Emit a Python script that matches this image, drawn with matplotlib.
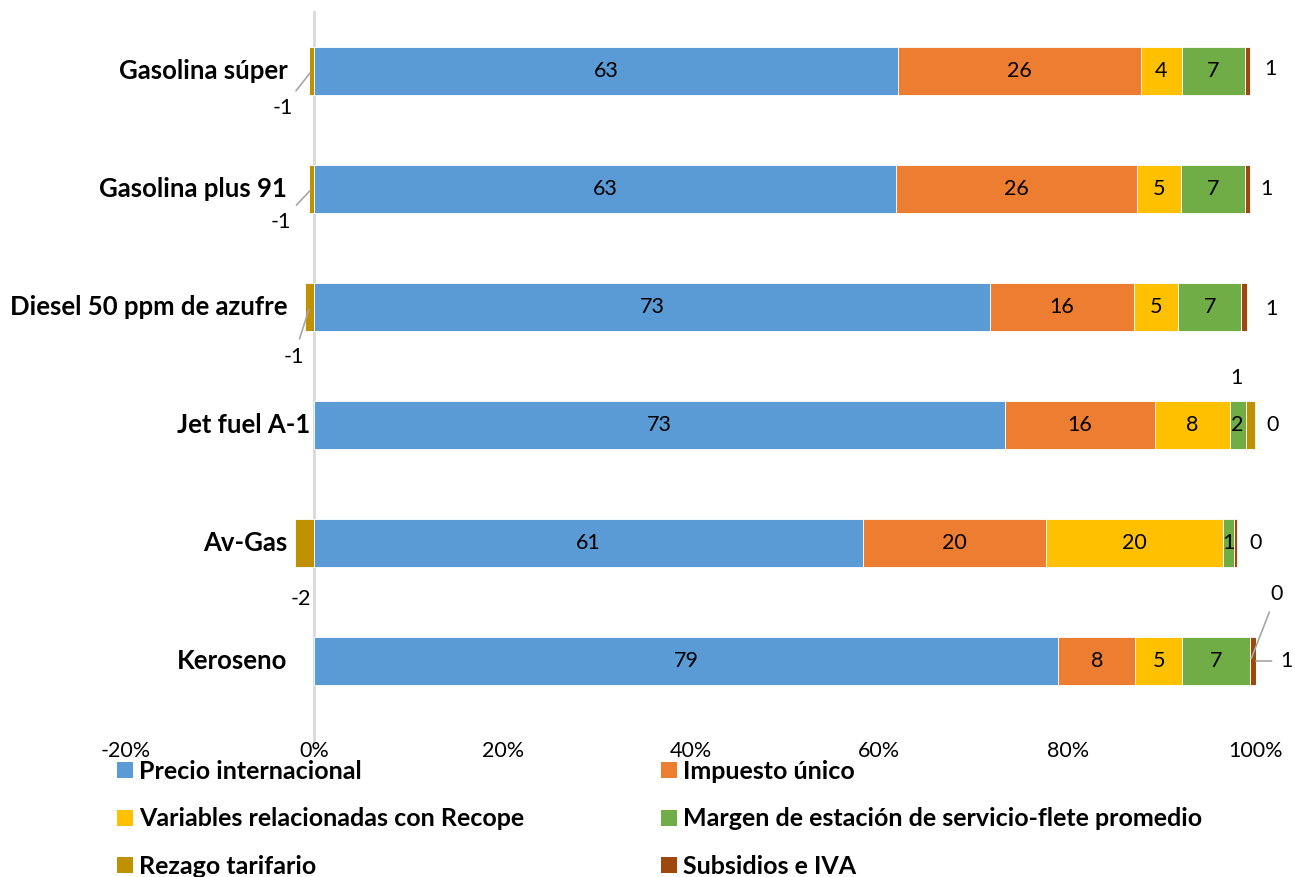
import matplotlib
matplotlib.use("Agg")
import matplotlib.pyplot as plt
from matplotlib.patches import Patch
from matplotlib.ticker import FuncFormatter

plt.rcParams["font.family"] = ["Lato", "DejaVu Sans"]

categories = ["Gasolina súper", "Gasolina plus 91", "Diesel 50 ppm de azufre",
              "Jet fuel A-1", "Av-Gas", "Keroseno"]
precio = [63.0, 62.8, 73.0, 73.3, 61.0, 79.0]
impuesto = [26.2, 26.0, 15.6, 16.0, 20.4, 8.2]
variables = [4.45, 4.8, 4.8, 7.9, 19.6, 4.9]
margen = [6.8, 6.9, 6.8, 1.7, 1.3, 7.3]
rezago = [-0.6, -0.6, -1.0, 1.0, -2.1, 0.0]
subsidios = [0.6, 0.6, 0.6, 0.1, 0.3, 0.6]

series_names = ["Precio internacional", "Impuesto único",
                "Variables relacionadas con Recope",
                "Margen de estación de servicio-flete promedio",
                "Rezago tarifario", "Subsidios e IVA"]
series = [precio, impuesto, variables, margen, rezago, subsidios]
colors = ["#5B9BD5", "#ED7D31", "#FFC000", "#70AD47", "#BF9000", "#9E480E"]

# labels drawn outside the bar: (series, category) -> (dx, dy in px, leader line)
outside = {
    (4, 0): (-29, -37, True), (4, 1): (-31, -33, True), (4, 2): (-16, -50, True),
    (4, 3): (-14, 47, False), (4, 4): (-4, -56, False), (4, 5): (26, 67, True),
    (5, 0): (23, 2, False), (5, 1): (19, 0, False), (5, 2): (28, -2, False),
    (5, 3): (17, 0, False), (5, 4): (20, 0, False), (5, 5): (33, 0, True),
}

fig = plt.figure(figsize=(12.95, 8.77), dpi=100)
ax = fig.add_axes([126 / 1295, 1 - 720 / 877, 1130 / 1295, 708 / 877])

n = len(categories)
totals = [sum(abs(s[i]) for s in series) for i in range(n)]
pos_left = [0.0] * n
neg_left = [0.0] * n
for si, (vals, col) in enumerate(zip(series, colors)):
    for i in range(n):
        v = vals[i] / totals[i] * 100
        if v >= 0:
            left = pos_left[i]
            pos_left[i] += v
        else:
            left = neg_left[i]
            neg_left[i] += v
        ax.barh(i, v, left=left, height=0.41, color=col,
                edgecolor="white", linewidth=0.6)
        cx = left + v / 2
        label = f"{vals[i]:.0f}"
        if label == "-0":
            label = "0"
        if (si, i) in outside:
            dx, dy, leader = outside[(si, i)]
            ax.annotate(label, xy=(cx, i), xytext=(dx, dy),
                        textcoords="offset pixels", ha="center", va="center",
                        fontsize=15.5, color="#000000",
                        arrowprops=dict(arrowstyle="-", color="#A6A6A6", lw=1.2,
                                        shrinkA=4, shrinkB=2) if leader else None)
        else:
            ax.text(cx, i, label, ha="center", va="center", fontsize=15.5,
                    color="#000000")

ax.set_xlim(-20, 100)
ax.set_ylim(n - 0.5, -0.5)
ax.axvline(0, color="#D9D9D9", lw=2, zorder=0, ymin=-0.04, ymax=1, clip_on=False)
ax.set_xticks([-20, 0, 20, 40, 60, 80, 100])
ax.xaxis.set_major_formatter(FuncFormatter(lambda x, p: f"{x:.0f}%"))
ax.tick_params(axis="x", length=0, pad=15, labelsize=15.5, colors="#000000")
ax.set_yticks([])
for sp in ax.spines.values():
    sp.set_visible(False)

for i, cat in enumerate(categories):
    off = -4 if cat == "Jet fuel A-1" else -27
    ax.annotate(cat, xy=(0, i), xytext=(off, 0), textcoords="offset pixels",
                ha="right", va="center", fontsize=18.5, fontweight="bold")

handles = [Patch(facecolor=c, edgecolor="none") for c in colors]
for cols, x in (([0, 2, 4], 117), ([1, 3, 5], 661)):
    fig.legend([handles[k] for k in cols], [series_names[k] for k in cols],
               loc="upper left", bbox_to_anchor=(x / 1295, 1 - 760 / 877),
               frameon=False, borderpad=0, borderaxespad=0,
               handlelength=0.62, handleheight=0.62, handletextpad=0.25,
               labelspacing=0.98, prop={"size": 18, "weight": "bold"})

fig.savefig("out.png", dpi=100)
